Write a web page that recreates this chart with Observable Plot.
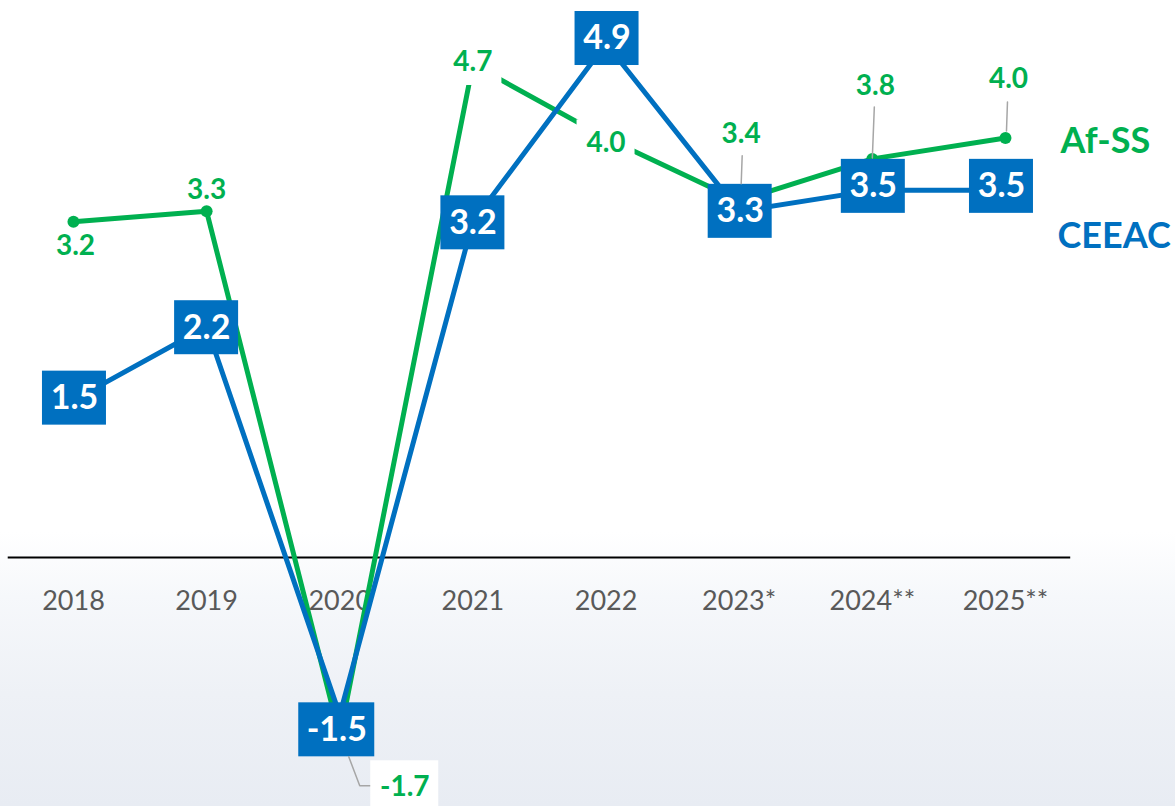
<!DOCTYPE html>
<html>
<head>
<meta charset="utf-8">
<script src="https://cdn.jsdelivr.net/npm/d3@7"></script>
<script src="https://cdn.jsdelivr.net/npm/@observablehq/plot@0.6"></script>
<style>
  html, body { margin: 0; padding: 0; background: #ffffff; }
  #wrap {
    position: relative; width: 1175px; height: 806px; overflow: hidden;
    background: linear-gradient(to bottom, #ffffff 0%, #ffffff 66%, #f6f8fb 74%, #eef1f6 86%, #e8ecf3 100%);
  }
  #wrap svg { position: absolute; left: 0; top: 0; background: transparent; }
</style>
</head>
<body>
<div id="wrap"></div>
<script>
// ---- data ----
const years = ["2018", "2019", "2020", "2021", "2022", "2023*", "2024**", "2025**"];
const afss = [3.2, 3.3, -1.7, 4.7, 4.0, 3.4, 3.8, 4.0];
const ceeac = [1.5, 2.2, -1.5, 3.2, 4.9, 3.3, 3.5, 3.5];
const seriesNames = ["Af-SS", "CEEAC"];

// ---- layout (pixel offsets of labels relative to their points) ----
const afssLabelOffset = [[2, 24], [0, -21], [65, 51], [0, -2], [0, 5], [2, -67], [3, -73], [3, -59]];
const afssLabelBg = [false, false, true, true, true, false, false, false];
const afssLeaders = [null, null, [[9, 21], [20, 50], [32, 50]], null, null, [[3, -45], [2, -17]], [[2, -52], [0, -1]], [[2, -36], [1, -7]]];
const ceeacBoxOffset = [[1, -2], [0, 1], [-3, 15], [0, 1], [1, -5], [1, 0], [1, -4], [-4, -4]];

const W = 1175, H = 806;
const xDomain = [-0.548, 8.277];
const yDomain = [-2.374, 5.31];
const PXX = W / (xDomain[1] - xDomain[0]);
const PXY = H / (yDomain[1] - yDomain[0]);
const off = (i, v, ox, oy) => ({x: i + ox / PXX, y: v - oy / PXY});

const GREEN = "#00B050", BLUE = "#0070C0";
const FONT = "Lato, 'Open Sans', sans-serif";

const afRows = years.map((yr, i) => ({i, v: afss[i]}));
const ceRows = years.map((yr, i) => ({i, v: ceeac[i]}));

const afLabels = afRows.map(d => {
  const p = off(d.i, d.v, afssLabelOffset[d.i][0], afssLabelOffset[d.i][1]);
  return {...p, text: d.v.toFixed(1), bg: afssLabelBg[d.i], neg: d.v < 0};
});
const afBgs = afLabels.filter(d => d.bg).map(d => {
  const hw = d.neg ? 34 : 29, hh = d.neg ? 26 : 23;
  return {x1: d.x - hw / PXX, x2: d.x + hw / PXX, y1: d.y - hh / PXY, y2: d.y + hh / PXY};
});
const leaderPts = [];
afRows.forEach(d => {
  const L = afssLeaders[d.i];
  if (!L) return;
  L.forEach(([ox, oy]) => leaderPts.push({...off(d.i, d.v, ox, oy), k: d.i}));
});

const ceBoxes = ceRows.map(d => {
  const c = off(d.i, d.v, ceeacBoxOffset[d.i][0], ceeacBoxOffset[d.i][1]);
  const hw = d.v < 0 ? 38 : 32, hh = 27;
  return {cx: c.x, cy: c.y, text: d.v.toFixed(1),
          x1: c.x - hw / PXX, x2: c.x + hw / PXX, y1: c.y - hh / PXY, y2: c.y + hh / PXY};
});

const legendRows = [
  {name: seriesNames[0], ...off(7, afss[7], 55, 4), color: GREEN},
  {name: seriesNames[1], ...off(7, ceeac[7], 52, 46), color: BLUE}
];

const axisRows = years.map((yr, i) => ({i, label: yr}));

const chart = Plot.plot({
  width: W, height: H,
  marginTop: 0, marginBottom: 0, marginLeft: 0, marginRight: 0,
  x: {type: "linear", domain: xDomain, axis: null},
  y: {type: "linear", domain: yDomain, axis: null},
  style: {background: "transparent", fontFamily: FONT},
  marks: [
    Plot.ruleY([{y: 0, x1: -0.49, x2: years.length - 0.51}], {y: "y", x1: "x1", x2: "x2", stroke: "#000", strokeWidth: 2}),
    Plot.text(axisRows, {x: "i", y: () => 0, text: "label", dy: 44, fill: "#595959", fontSize: 27, fontFamily: FONT}),
    Plot.line(afRows, {x: "i", y: "v", stroke: GREEN, strokeWidth: 5, strokeLinejoin: "miter"}),
    Plot.dot(afRows, {x: "i", y: "v", r: 6, fill: GREEN}),
    Plot.line(ceRows, {x: "i", y: "v", stroke: BLUE, strokeWidth: 5}),
    Plot.rect(ceBoxes, {x1: "x1", x2: "x2", y1: "y1", y2: "y2", fill: BLUE}),
    Plot.text(ceBoxes, {x: "cx", y: "cy", text: "text", fill: "#fff", fontSize: 34, fontWeight: "bold", fontFamily: FONT}),
    Plot.line(leaderPts, {x: "x", y: "y", z: "k", stroke: "#A6A6A6", strokeWidth: 1.5}),
    Plot.rect(afBgs, {x1: "x1", x2: "x2", y1: "y1", y2: "y2", fill: "#fff"}),
    Plot.text(afLabels, {x: "x", y: "y", text: "text", fill: GREEN, fontSize: 28, fontWeight: "bold", fontFamily: FONT}),
    Plot.text(legendRows, {x: "x", y: "y", text: "name", fill: "color", fontSize: 36, fontWeight: "bold", textAnchor: "start", fontFamily: FONT})
  ]
});
document.getElementById("wrap").appendChild(chart);
</script>
</body>
</html>
